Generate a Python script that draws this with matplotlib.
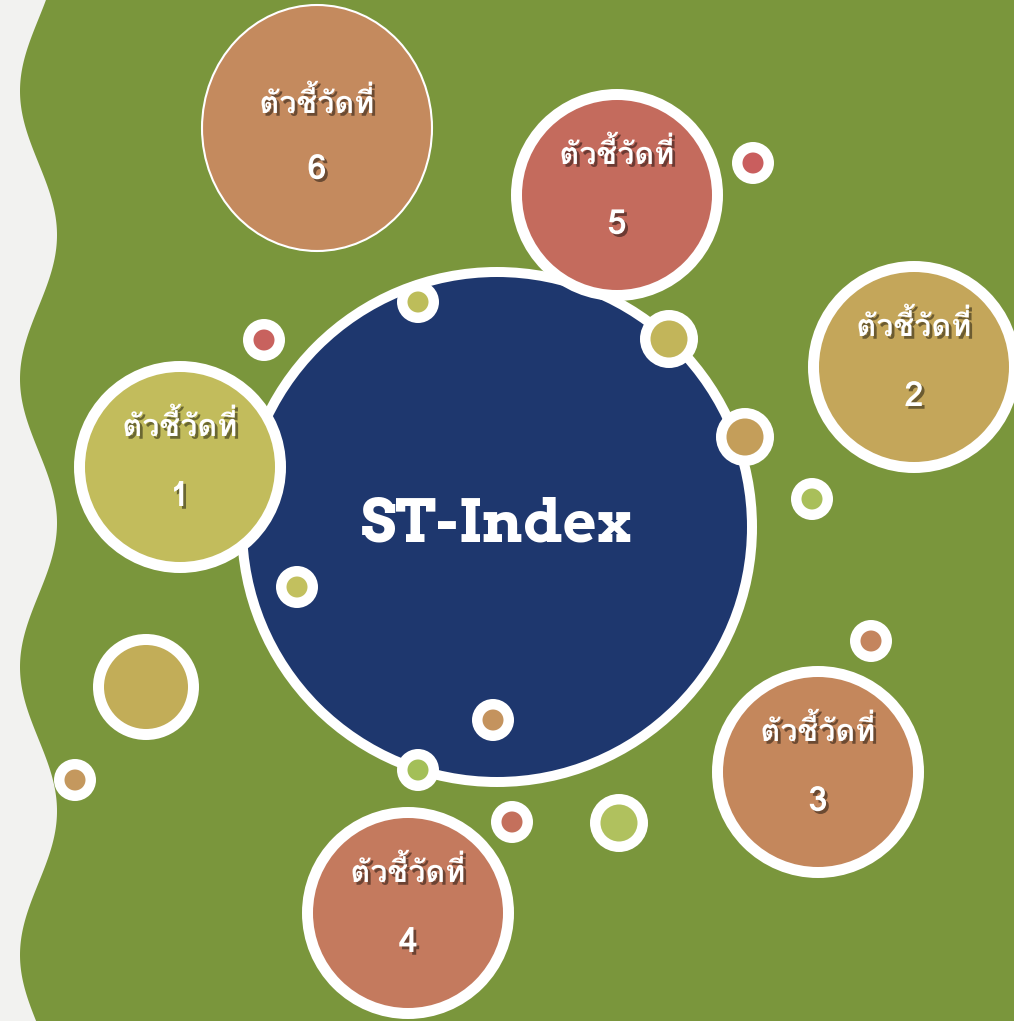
import numpy as np
import matplotlib
matplotlib.use("Agg")
import matplotlib.pyplot as plt
from matplotlib.patches import Circle, Ellipse, Polygon
import matplotlib.patheffects as pe

# indicator circles: label number, centre, fill colour
labels = ["1", "2", "3", "4", "5", "6"]
label_x = [180, 914, 818, 408, 617, 317]
label_y = [467, 367, 772, 913, 195, 128]
label_colors = ["#C2BC5C", "#C4A65A", "#C4875C", "#C47A5E", "#C46B5D", "#C48A5E"]
title_word = "ตัวชี้วัดที่"
center_text = "ST-Index"

# small decorative dots: centre, outer radius, inner colour
dot_x = [264, 418, 753, 669, 745, 812, 871, 297, 493, 418, 512, 619, 146, 75]
dot_y = [340, 302, 163, 339, 437, 499, 641, 587, 720, 770, 822, 823, 687, 780]
dot_r = [21, 21, 21, 29, 29, 21, 21, 21, 21, 21, 21, 29, 53, 21]
dot_colors = ["#C8625E", "#BDBD5A", "#C95E5E", "#C2B55A", "#C49E5A", "#A9BF5A",
              "#C4855E", "#C2C05E", "#C4935E", "#A3BF58", "#C4705C", "#B0C15E",
              "#C2AD58", "#C4985E"]

W, H = 1014, 1021
fig = plt.figure(figsize=(W / 100, H / 100), dpi=100, facecolor="#F2F2F0")
ax = fig.add_axes([0, 0, 1, 1])
ax.set_xlim(0, W)
ax.set_ylim(H, 0)
ax.set_aspect("equal")
ax.axis("off")

# green background with wavy left edge
yy = np.linspace(0, H, 400)
xx = 38.5 - 18.5 * np.cos(2 * np.pi * (yy - 91) / 288)
pts = list(zip(xx, yy)) + [(W, H), (W, 0)]
ax.add_patch(Polygon(pts, closed=True, facecolor="#7A963C", edgecolor="none", zorder=0))

# central circle
ax.add_patch(Circle((497, 527), 260, facecolor="white", edgecolor="none", zorder=1))
ax.add_patch(Circle((497, 527), 250, facecolor="#1E376E", edgecolor="none", zorder=1))
ax.text(497, 525, center_text, color="white", fontsize=42, fontweight="bold",
        family=["Arvo", "Rokkitt", "DejaVu Serif"], ha="center", va="center", zorder=5)

thai = ["Loma", "DejaVu Sans"]
shadow = [pe.withSimplePatchShadow(offset=(2, -2), shadow_rgbFace="black", alpha=0.45)]

for i, lab in enumerate(labels):
    cx, cy = label_x[i], label_y[i]
    if lab == "6":
        ax.add_patch(Ellipse((cx, cy), 230, 246, facecolor=label_colors[i],
                             edgecolor="white", linewidth=1.5, zorder=2))
        ty, ny = cy - 25, cy + 42
    else:
        ax.add_patch(Circle((cx, cy), 106, facecolor="white", edgecolor="none", zorder=2))
        ax.add_patch(Circle((cx, cy), 95, facecolor=label_colors[i], edgecolor="none", zorder=2))
        ty, ny = cy - 41, cy + 30
    ax.text(cx, ty, title_word, color="white", fontsize=22, fontweight="bold",
            family=thai, ha="center", va="center", zorder=5, path_effects=shadow)
    ax.text(cx, ny, lab, color="white", fontsize=25, fontweight="bold",
            family=thai, ha="center", va="center", zorder=5, path_effects=shadow)

for i in range(len(dot_x)):
    r = dot_r[i]
    inner = 10.5 if r == 21 else (18.5 if r == 29 else 42)
    ax.add_patch(Circle((dot_x[i], dot_y[i]), r, facecolor="white", edgecolor="none", zorder=3))
    ax.add_patch(Circle((dot_x[i], dot_y[i]), inner, facecolor=dot_colors[i],
                        edgecolor="none", zorder=3))

fig.savefig("out.png", dpi=100, facecolor=fig.get_facecolor())
